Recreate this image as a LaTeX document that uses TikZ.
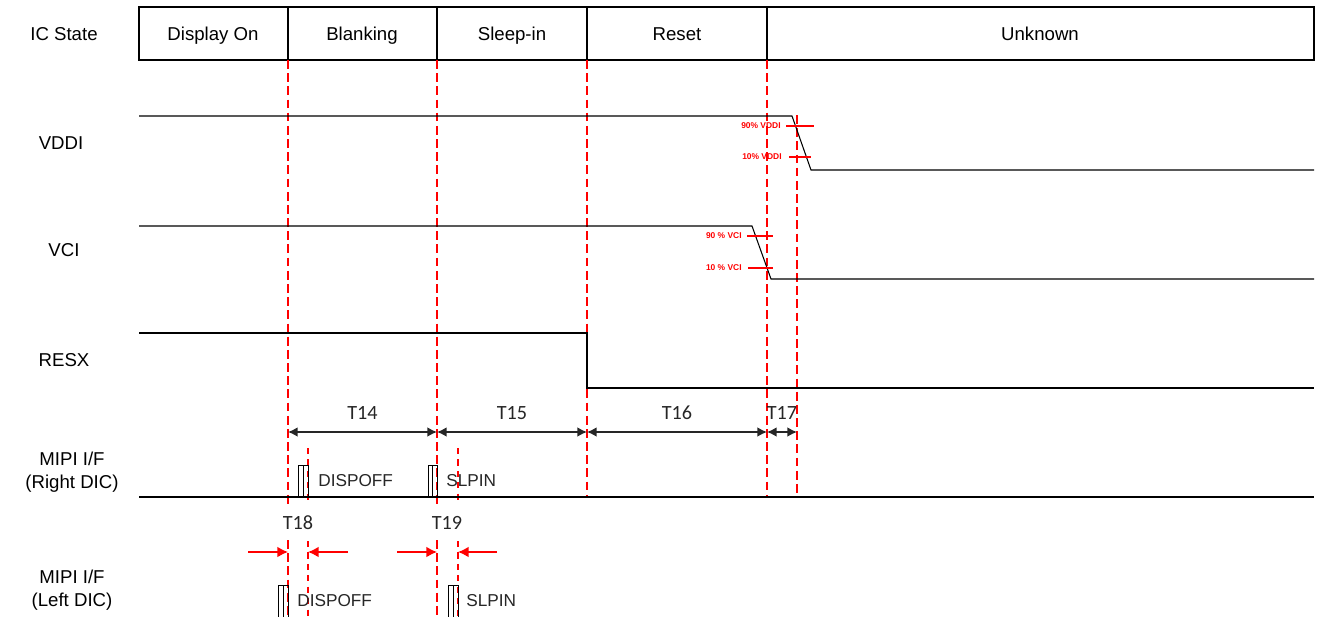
\documentclass[tikz,border=0pt]{standalone}
\usepackage{fontspec}
\setmainfont{Liberation Sans}
\newfontfamily\calfont{Carlito}
\usetikzlibrary{arrows.meta, positioning, calc}

\begin{document}
\begin{tikzpicture}[x=0.02cm, y=-0.02cm,
    lbl/.style={font=\fontsize{10.6}{13}\selectfont, inner sep=0pt, align=center},
    hdr/.style={lbl, anchor=base},
    cmd/.style={font=\fontsize{9.8}{11}\selectfont, text=black!85, inner sep=0pt, anchor=west},
    tlbl/.style={font=\calfont\fontsize{11.5}{13}\selectfont, text=black!85, inner sep=0pt},
    pct/.style={font=\bfseries\fontsize{4.8}{5.5}\selectfont, text=red, inner sep=0pt, anchor=east},
    sig/.style={line width=0.6pt},
    evline/.style={red, line width=1.5pt, dash pattern=on 5pt off 2.5pt},
    thinev/.style={red, line width=0.7pt, dash pattern=on 3.5pt off 3pt},
    tick/.style={red, line width=0.9pt},
    span/.style={{Latex[length=5.5pt,width=5.5pt]}-{Latex[length=5.5pt,width=5.5pt]}, line width=0.8pt, black!85},
    redarr/.style={-{Latex[length=6pt,width=6pt]}, red, line width=0.8pt},
    pulse/.style={draw, line width=0.5pt}
]
    \useasboundingbox (0,0) rectangle (1319,616);

    % state header
    \draw[sig] (139,7) rectangle (1314,60);
    \foreach \x in {288,437,587,767} \draw[sig] (\x,7) -- (\x,60);
    \node[hdr] (state) at (64,40) {IC State};
    \node[hdr] (son) at (213,40) {Display On};
    \node[hdr] (sblank) at (362,40) {Blanking};
    \node[hdr] (ssleep) at (512,40) {Sleep-in};
    \node[hdr] (sreset) at (677,40) {Reset};
    \node[hdr] (sunk) at (1040,40) {Unknown};

    % signal names
    \node[lbl] (vddi) at (61,143) {VDDI};
    \node[lbl] (vci) at (64,250) {VCI};
    \node[lbl] (resx) at (64,360) {RESX};
    \node[lbl] (mipir) at (72,472) {MIPI I/F\\(Right DIC)};
    \node[lbl] (mipil) at (72,590) {MIPI I/F\\(Left DIC)};

    % event lines
    \foreach \x in {288,437} {
        \draw[evline] (\x,60) -- (\x,505);
        \draw[evline] (\x,540) -- (\x,616);
    }
    \foreach \x in {587,767} \draw[evline] (\x,60) -- (\x,497);
    \draw[evline] (797,115) -- (797,497);
    \foreach \x in {308,458} {
        \draw[thinev] (\x,448) -- (\x,503);
        \draw[thinev] (\x,541) -- (\x,616);
    }

    % waveforms
    \draw[sig] (139,116) -- (792,116) -- (811,170) -- (1314,170);
    \draw[sig] (139,226) -- (752,226) -- (771,279) -- (1314,279);
    \draw[sig] (139,333) -- (587,333) -- (587,388) -- (1314,388);
    \draw[sig] (139,497) -- (1314,497);

    % threshold marks
    \draw[tick] (786,126) -- (814,126);
    \draw[tick] (789,157) -- (811,157);
    \draw[tick] (747,236) -- (773,236);
    \draw[tick] (748,268) -- (773,268);
    \node[pct] (v90) at (781,126) {90\% VDDI};
    \node[pct] (v10) at (782,157) {10\% VDDI};
    \node[pct] (c90) at (742,236) {90 \% VCI};
    \node[pct] (c10) at (742,268) {10 \% VCI};

    % commands
    \draw[pulse] (298,465) rectangle (308,497);
    \draw[pulse] (303,465) -- (303,497);
    \draw[pulse] (428,465) rectangle (437,497);
    \draw[pulse] (432.5,465) -- (432.5,497);
    \draw[pulse] (278,585) rectangle (288,618);
    \draw[pulse] (283,585) -- (283,618);
    \draw[pulse] (448,585) rectangle (458,618);
    \draw[pulse] (453,585) -- (453,618);
    \node[cmd] (offr) at (318,481) {DISPOFF};
    \node[cmd] (slpr) at (446,481) {SLPIN};
    \node[cmd] (offl) at (297,601) {DISPOFF};
    \node[cmd] (slpl) at (466,601) {SLPIN};

    % timing spans
    \coordinate (a1) at (288,432);
    \coordinate (a2) at (437,432);
    \coordinate (a3) at (587,432);
    \coordinate (a4) at (767,432);
    \coordinate (a5) at (797,432);
    \draw[span] (a1) -- node[tlbl, above=6.5pt] (t14) {T14} (a2);
    \draw[span] (a2) -- node[tlbl, above=6.5pt] (t15) {T15} (a3);
    \draw[span] (a3) -- node[tlbl, above=6.5pt] (t16) {T16} (a4);
    \draw[span] (a4) -- node[tlbl, above=6.5pt] (t17) {T17} (a5);

    % left/right skew
    \coordinate (b1) at (248,552);
    \coordinate (b2) at (288,552);
    \coordinate (b3) at (348,552);
    \coordinate (b4) at (308,552);
    \coordinate (b5) at (397,552);
    \coordinate (b6) at (437,552);
    \coordinate (b7) at (497,552);
    \coordinate (b8) at (458,552);
    \draw[redarr] (b1) -- (b2);
    \draw[redarr] (b3) -- (b4);
    \draw[redarr] (b5) -- (b6);
    \draw[redarr] (b7) -- (b8);
    \node[tlbl] (t18) at (298,523) {T18};
    \node[tlbl] (t19) at (447,523) {T19};
\end{tikzpicture}
\end{document}
